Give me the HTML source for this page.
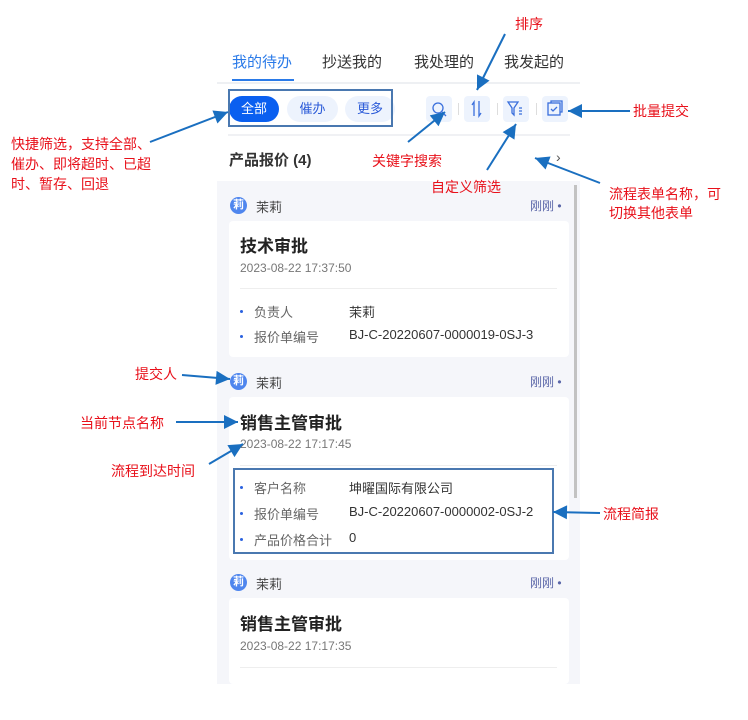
<!DOCTYPE html>
<html><head><meta charset="utf-8"><style>
*{margin:0;padding:0;box-sizing:border-box}
body{width:748px;height:720px;background:#fff;position:relative;overflow:hidden;font-family:"Liberation Sans","Noto Sans CJK SC",sans-serif;color:#333}
.a{position:absolute;white-space:nowrap}
.r{color:#e8101a;font-size:14px}
.tab{font-size:15px;color:#333;top:51px}
.pill{position:absolute;top:96px;height:26px;border-radius:13px;background:#edf3fd;color:#2a5ad8;font-size:13px;text-align:center;line-height:26px}
.ib{position:absolute;top:96px;width:26px;height:26px;border-radius:4px;background:#edf3fd}
.card{position:absolute;left:229px;width:340px;background:#fff;border-radius:4px}
.av{position:absolute;width:17px;height:17px;border-radius:50%;background:#4f86ee;color:#fff;font-size:11px;text-align:center;line-height:17px;font-weight:bold}
.nm{font-size:13px;color:#444}
.gg{font-size:12px;color:#5a66a8}
.t{font-size:17px;font-weight:bold;color:#222}
.d{font-size:12px;color:#777}
.lb{font-size:13px;color:#666}
.v{font-size:13px;color:#333}
.b{position:absolute;width:3px;height:3px;border-radius:50%;background:#2a62e0}
</style></head><body>
<!-- tabs -->
<div class="a tab" style="left:232px;color:#2a7ae8">我的待办</div>
<div class="a tab" style="left:322px">抄送我的</div>
<div class="a tab" style="left:414px">我处理的</div>
<div class="a tab" style="left:504px">我发起的</div>
<div class="a" style="left:232px;top:79px;width:62px;height:2px;background:#2a7ae8"></div>
<div class="a" style="left:217px;top:82px;width:363px;height:2px;background:#eef0f3"></div>
<!-- filters -->
<div class="pill" style="left:229px;width:50px;background:#0a5ff0;color:#fff">全部</div>
<div class="pill" style="left:287px;width:51px">催办</div>
<div class="pill" style="left:345px;width:50px">更多</div>
<div class="a" style="left:228px;top:89px;width:165px;height:38px;border:2px solid #4a78b0"></div>
<div class="ib" style="left:426px"></div>
<div class="ib" style="left:464px"></div>
<div class="ib" style="left:503px"></div>
<div class="ib" style="left:542px"></div>
<div class="a" style="left:458px;top:103px;width:1px;height:12px;background:#ddd"></div>
<div class="a" style="left:497px;top:103px;width:1px;height:12px;background:#ddd"></div>
<div class="a" style="left:536px;top:103px;width:1px;height:12px;background:#ddd"></div>
<svg class="a" style="left:0;top:0" width="748" height="720">
<g fill="none" stroke="#3a6fdc" stroke-width="1.3">
<circle cx="438" cy="108" r="5"/><line x1="442" y1="112" x2="446" y2="116"/>
<path d="M474 116V102l-2 3M479 101v15l2-3"/>
<path d="M508 102h10l-4 6v7l-2-2v-5z"/><path d="M519 108h3M519 111h3M519 114h3"/>
<rect x="548" y="103" width="12" height="12"/><path d="M551 103v-2h11v11h-2"/><path d="M551 109l2 2 4-4"/>
</g>
</svg>
<div class="a" style="left:228px;top:134px;width:342px;height:2px;background:#f0f1f4"></div>
<div class="a" style="left:229px;top:149px;font-size:15px;font-weight:bold;color:#333">产品报价 (4)</div>
<div class="a" style="left:556px;top:149px;font-size:14px;color:#555">›</div>
<!-- list -->
<div class="a" style="left:217px;top:181px;width:363px;height:503px;background:#f5f6fa"></div>
<div class="a" style="left:574px;top:185px;width:3px;height:313px;background:#c2c2c2"></div>

<div class="av" style="left:230px;top:197px">莉</div>
<div class="a nm" style="left:256px;top:197px">茉莉</div>
<div class="a gg" style="left:530px;top:197px">刚刚 •</div>
<div class="card" style="top:221px;height:136px"></div>
<div class="a t" style="left:240px;top:232px">技术审批</div>
<div class="a d" style="left:240px;top:261px">2023-08-22 17:37:50</div>
<div class="a" style="left:240px;top:288px;width:317px;height:1px;background:#eee"></div>
<div class="b" style="left:240px;top:310px"></div><div class="a lb" style="left:254px;top:302px">负责人</div><div class="a v" style="left:349px;top:302px">茉莉</div>
<div class="b" style="left:240px;top:335px"></div><div class="a lb" style="left:254px;top:327px">报价单编号</div><div class="a v" style="left:349px;top:327px">BJ-C-20220607-0000019-0SJ-3</div>

<div class="av" style="left:230px;top:373px">莉</div>
<div class="a nm" style="left:256px;top:373px">茉莉</div>
<div class="a gg" style="left:530px;top:373px">刚刚 •</div>
<div class="card" style="top:397px;height:163px"></div>
<div class="a t" style="left:240px;top:409px">销售主管审批</div>
<div class="a d" style="left:240px;top:437px">2023-08-22 17:17:45</div>
<div class="a" style="left:240px;top:465px;width:317px;height:1px;background:#eee"></div>
<div class="a" style="left:233px;top:468px;width:321px;height:86px;border:2px solid #4a78b0"></div>
<div class="b" style="left:240px;top:486px"></div><div class="a lb" style="left:254px;top:478px">客户名称</div><div class="a v" style="left:349px;top:478px">坤曜国际有限公司</div>
<div class="b" style="left:240px;top:512px"></div><div class="a lb" style="left:254px;top:504px">报价单编号</div><div class="a v" style="left:349px;top:504px">BJ-C-20220607-0000002-0SJ-2</div>
<div class="b" style="left:240px;top:538px"></div><div class="a lb" style="left:254px;top:530px">产品价格合计</div><div class="a v" style="left:349px;top:530px">0</div>

<div class="av" style="left:230px;top:574px">莉</div>
<div class="a nm" style="left:256px;top:574px">茉莉</div>
<div class="a gg" style="left:530px;top:574px">刚刚 •</div>
<div class="card" style="top:598px;height:86px"></div>
<div class="a t" style="left:240px;top:610px">销售主管审批</div>
<div class="a d" style="left:240px;top:639px">2023-08-22 17:17:35</div>
<div class="a" style="left:240px;top:667px;width:317px;height:1px;background:#eee"></div>

<!-- annotations -->
<div class="a r" style="left:515px;top:14px">排序</div>
<div class="a r" style="left:633px;top:101px">批量提交</div>
<div class="a r" style="left:11px;top:134px;line-height:20px">快捷筛选，支持全部、<br>催办、即将超时、已超<br>时、暂存、回退</div>
<div class="a r" style="left:372px;top:151px">关键字搜索</div>
<div class="a r" style="left:431px;top:177px">自定义筛选</div>
<div class="a r" style="left:609px;top:185px;line-height:19px">流程表单名称，可<br>切换其他表单</div>
<div class="a r" style="left:135px;top:364px">提交人</div>
<div class="a r" style="left:80px;top:413px">当前节点名称</div>
<div class="a r" style="left:111px;top:461px">流程到达时间</div>
<div class="a r" style="left:603px;top:504px">流程简报</div>
<svg class="a" style="left:0;top:0" width="748" height="720">
<defs><marker id="m" markerWidth="8" markerHeight="8" refX="7" refY="4" orient="auto" markerUnits="userSpaceOnUse" viewBox="0 0 8 8"><path d="M0 0L8 4L0 8z" fill="#1a6fc0"/></marker>
<marker id="M" viewBox="0 0 10 10" refX="10" refY="5" markerWidth="16" markerHeight="14" orient="auto" markerUnits="userSpaceOnUse"><path d="M0 0L10 5L0 10z" fill="#1a6fc0"/></marker></defs>
<g stroke="#1a6fc0" stroke-width="2" fill="none" marker-end="url(#M)">
<line x1="505" y1="34" x2="477" y2="90"/>
<line x1="630" y1="111" x2="568" y2="111"/>
<line x1="150" y1="142" x2="228" y2="112"/>
<line x1="408" y1="142" x2="445" y2="112"/>
<line x1="487" y1="170" x2="516" y2="124"/>
<line x1="600" y1="183" x2="535" y2="158"/>
<line x1="182" y1="375" x2="230" y2="379"/>
<line x1="176" y1="422" x2="238" y2="422"/>
<line x1="209" y1="464" x2="243" y2="444"/>
<line x1="600" y1="513" x2="553" y2="512"/>
</g>
</svg>
</body></html>
